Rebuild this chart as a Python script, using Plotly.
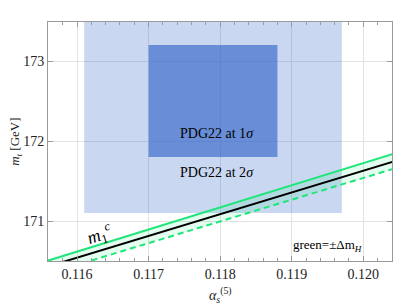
import plotly.graph_objects as go

# ---- data ----
alpha_pts = [0.1150, 0.1210]
mt_central = [170.27, 171.90]   # m_1^c (black)
mt_plus = [170.34, 172.00]      # +Delta m_H (green solid)
mt_minus = [170.18, 171.81]     # -Delta m_H (green dashed)

pdg_2s_alpha = [0.1161, 0.1197]
pdg_2s_mt = [171.1, 173.9]
pdg_1s_alpha = [0.1170, 0.1188]
pdg_1s_mt = [171.8, 173.2]

x_ticks = [0.116, 0.117, 0.118, 0.119, 0.120]
x_tick_text = ["0.116", "0.117", "0.118", "0.119", "0.120"]
y_ticks = [171, 172, 173]
y_tick_text = ["171", "172", "173"]

SERIF = "Liberation Serif"


def box(xr, yr):
    return [xr[0], xr[1], xr[1], xr[0], xr[0]], [yr[0], yr[0], yr[1], yr[1], yr[0]]


fig = go.Figure()

bx, by = box(pdg_2s_alpha, pdg_2s_mt)
fig.add_trace(go.Scatter(x=bx, y=by, fill="toself", mode="none",
                         fillcolor="rgba(50,100,200,0.26)", hoverinfo="skip"))
bx, by = box(pdg_1s_alpha, pdg_1s_mt)
fig.add_trace(go.Scatter(x=bx, y=by, fill="toself", mode="none",
                         fillcolor="rgba(50,100,200,0.64)", hoverinfo="skip"))

# green band
fig.add_trace(go.Scatter(x=alpha_pts, y=mt_minus, mode="lines",
                         line=dict(width=0), hoverinfo="skip"))
fig.add_trace(go.Scatter(x=alpha_pts, y=mt_plus, mode="lines", fill="tonexty",
                         fillcolor="rgba(40,240,120,0.13)",
                         line=dict(width=0), hoverinfo="skip"))

fig.add_trace(go.Scatter(x=alpha_pts, y=mt_plus, mode="lines",
                         line=dict(color="#1fe67a", width=2)))
fig.add_trace(go.Scatter(x=alpha_pts, y=mt_minus, mode="lines",
                         line=dict(color="#1fe67a", width=2, dash="6px,4px")))
fig.add_trace(go.Scatter(x=alpha_pts, y=mt_central, mode="lines",
                         line=dict(color="black", width=2)))

fig.add_annotation(x=0.11795, y=172.1, text="PDG22 at 1<i>σ</i>", showarrow=False,
                   font=dict(family=SERIF, size=14, color="black"))
fig.add_annotation(x=0.11795, y=171.61, text="PDG22 at 2<i>σ</i>", showarrow=False,
                   font=dict(family=SERIF, size=14, color="black"))
fig.add_annotation(x=0.1195, y=170.70, text="green=±Δm<sub><i>H</i></sub>",
                   showarrow=False, font=dict(family=SERIF, size=13, color="black"))
fig.add_annotation(x=0.11632, y=170.83, text="<i>m</i><sub>1</sub><sup><i>c</i></sup>",
                   showarrow=False, textangle=-18,
                   font=dict(family=SERIF, size=18, color="black"))

# axis titles placed in paper coordinates
fig.add_annotation(xref="paper", yref="paper", x=0.5, y=-0.142, yanchor="middle",
                   text="<i>α</i><sub><i>s</i></sub><sup>(5)</sup>", showarrow=False,
                   font=dict(family=SERIF, size=14, color="#222"))
fig.add_annotation(xref="paper", yref="paper", x=-0.095, y=0.5, xanchor="center",
                   text="<i>m</i><sub><i>t</i></sub> [GeV]", showarrow=False, textangle=-90,
                   font=dict(family=SERIF, size=13, color="#222"))

axis_common = dict(
    showline=True, linecolor="#9a9a9a", linewidth=1, mirror="allticks",
    ticks="inside", ticklen=5, tickcolor="#9a9a9a", tickwidth=1,
    showgrid=True, gridcolor="#e2e2e2", gridwidth=1, zeroline=False,
    tickfont=dict(family=SERIF, size=14, color="#222"), automargin=False,
)

fig.update_xaxes(range=[0.115594, 0.120401], tickvals=x_ticks, ticktext=x_tick_text,
                 minor=dict(dtick=0.0002, ticks="inside", ticklen=3,
                            tickcolor="#9a9a9a", showgrid=False),
                 **axis_common)
fig.update_yaxes(range=[170.5, 173.4875], tickvals=y_ticks, ticktext=y_tick_text,
                 **axis_common)

# the page adds an 8px body margin, so the figure is 8px smaller and shifted
fig.update_layout(width=406, height=299, showlegend=False,
                  margin=dict(l=40, r=22, t=14, b=46),
                  font=dict(family=SERIF),
                  plot_bgcolor="white", paper_bgcolor="white")

fig.write_html("out.html")
